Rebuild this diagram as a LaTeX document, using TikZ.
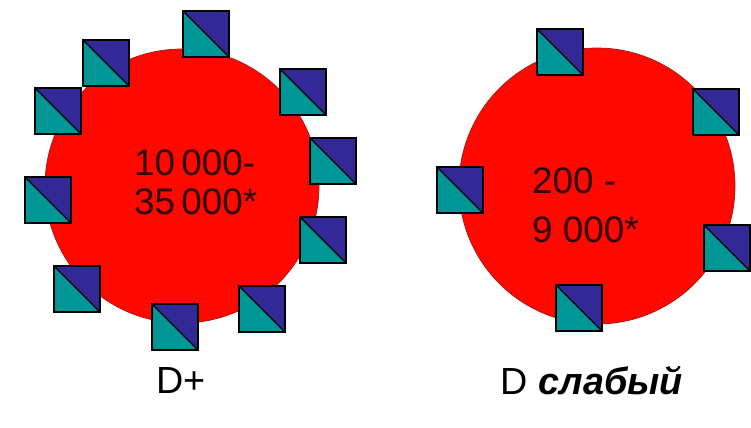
\documentclass[tikz,border=0pt]{standalone}
\usepackage{fontspec}
\setmainfont{Liberation Sans}
\begin{document}
\begin{tikzpicture}[x=0.02cm,y=-0.02cm]
		%---------------- Colors & styles ----------------
		\definecolor{cellred}{RGB}{255,8,0}    % cell body
		\definecolor{rimred}{RGB}{170,20,10}   % thin cell outline
		\definecolor{tealhalf}{RGB}{0,150,150} % lower-left half of an antigen
		\definecolor{bluehalf}{RGB}{50,40,150} % upper-right half of an antigen
		\definecolor{inktext}{RGB}{45,5,5}     % dark text on the cells
		\tikzset{
			cell/.style={fill=cellred, draw=rimred, line width=0.4pt},
			lowhalf/.style={fill=tealhalf},
			uphalf/.style={fill=bluehalf},
			tileedge/.style={draw=black, line width=0.7pt},
			count/.style={inktext, font=\fontsize{21}{23}\selectfont, align=left, anchor=west},
			caption/.style={black, font=\fontsize{21.5}{23}\selectfont},
		}
		
		% half side of an antigen square
		\def\hs{23}
		
		% antigen square centred at (#1,#2): teal below the diagonal, blue above
		\newcommand{\tile}[2]{%
			\fill[lowhalf] (#1-\hs,#2-\hs) -- (#1-\hs,#2+\hs) -- (#1+\hs,#2+\hs) -- cycle;
			\fill[uphalf] (#1-\hs,#2-\hs) -- (#1+\hs,#2-\hs) -- (#1+\hs,#2+\hs) -- cycle;
			\draw[tileedge] (#1-\hs,#2-\hs) -- (#1+\hs,#2+\hs);
			\draw[tileedge] (#1-\hs,#2-\hs) rectangle (#1+\hs,#2+\hs);
		}
		
		\useasboundingbox (0,0) rectangle (751,427);
		
		%---------------- Cell centres ----------------
		\def\xl{182}
		\def\yl{186}
		\def\xr{597}
		\def\yr{186}
		
		%---------------- Cells ----------------
		\draw[cell] (\xl,\yl) circle (137);
		\draw[cell] (\xr,\yr) circle (138);
		
		%---------------- Antigens, D+ (dense) ----------------
		\tile{206}{34}
		\tile{106}{63}
		\tile{58}{111}
		\tile{48}{200}
		\tile{77}{289}
		\tile{175}{327}
		\tile{262}{309}
		\tile{323}{240}
		\tile{333}{161}
		\tile{303}{92}
		
		%---------------- Antigens, weak D (sparse) ----------------
		\tile{560}{52}
		\tile{716}{112}
		\tile{460}{190}
		\tile{727}{248}
		\tile{579}{308}
		
		%---------------- Counts ----------------
		\node[count] (nplus) at (128,182) {10\,000-\\[-1pt]35\,000*};
		\node[count] (nweak) at (526,205) {200 -\\[5pt]9 000*};
		
		%---------------- Captions ----------------
		\node[caption] (dplus) at (181,380) {D+};
		\node[caption] (dweak) at (592,381) {D \textbf{\textit{слабый}}};
	\end{tikzpicture}
\end{document}
